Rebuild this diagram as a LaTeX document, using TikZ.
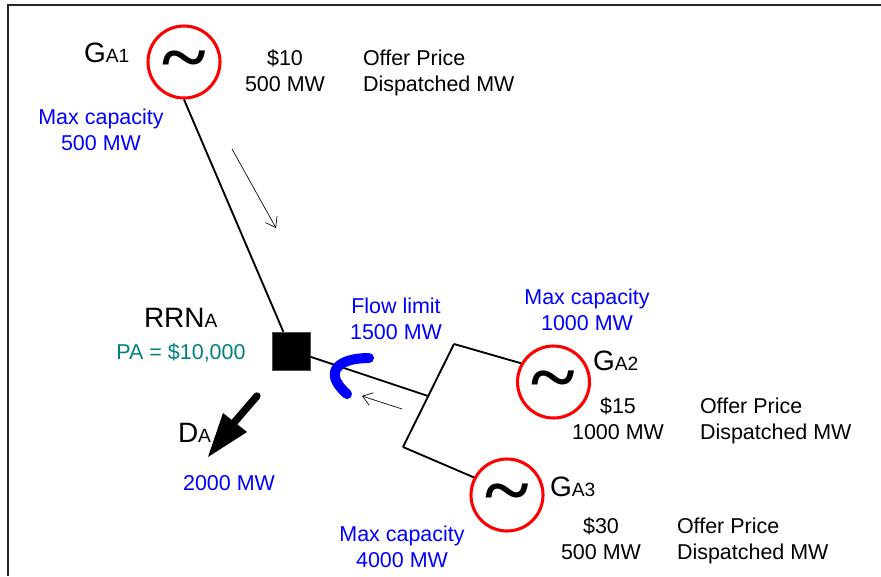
\documentclass[tikz,border=0pt]{standalone}
\usepackage{fontspec}
\setmainfont{Liberation Sans}
\newfontfamily\tildefont[FakeStretch=1.12]{Liberation Serif}
\usetikzlibrary{arrows.meta}
\definecolor{tealtxt}{RGB}{0,128,128}
\definecolor{flowblue}{RGB}{0,0,255}
\newcommand{\bigsub}[2]{{\fontsize{21pt}{24pt}\selectfont #1}{\fontsize{14.4pt}{17pt}\selectfont #2}}
\newcommand{\tildemark}{\raisebox{-15pt}[0pt][0pt]{\bfseries\char"7E}}
\tikzset{
  x=.75pt,y=-.75pt,
  gen/.style={circle,draw=red,line width=2.3pt,minimum size=54pt,inner sep=0pt,fill=white,font=\tildefont\fontsize{56pt}{56pt}\selectfont},
  wire/.style={line width=1.4pt,black},
  flowarrow/.style={line width=.5pt,black,-{Straight Barb[length=7pt,width=10pt,line width=.5pt]}},
  txt/.style={inner sep=0pt,outer sep=0pt,font=\fontsize{16.1pt}{19.3pt}\selectfont,align=center,anchor=base},
  ltxt/.style={txt,align=left,anchor=base west},
  bluetxt/.style={txt,text=flowblue},
  lab/.style={inner sep=0pt,outer sep=0pt,anchor=base west},
}
\begin{document}
\begin{tikzpicture}
\useasboundingbox (0,0) rectangle (881,576);
\draw[line width=1.5pt,black!85] (8,576) -- (8,5) -- (881,5);
% nodes
\node[gen] (g1) at (184,62) {\tildemark};
\node[gen] (g2) at (553.5,382) {\tildemark};
\node[gen] (g3) at (507,495) {\tildemark};
\node[fill=black,draw=black!70,line width=.4pt,minimum size=28.5pt,inner sep=0pt] (rrn) at (291.5,351) {};
\coordinate (j) at (428,396);
\coordinate (bt) at (454,344);
\coordinate (bb) at (403,447);
% wires
\draw[wire] (g1.south) -- (rrn.113);
\draw[wire] (rrn.-17) -- (j);
\draw[wire] (bb) -- (bt);
\draw[wire] (bt) -- (g2.150);
\draw[wire] (bb) -- (g3.152);
% flow arrows
\coordinate (fa1) at (232,149);
\coordinate (fa2) at (276,228);
\coordinate (fb1) at (402,409);
\coordinate (fb2) at (362,396);
\draw[flowarrow] (fa1) -- (fa2);
\draw[flowarrow] (fb1) -- (fb2);
% flow limit
\coordinate (fl1) at (369,358);
\coordinate (fl2) at (347,394);
\draw[flowblue,line width=7.5pt,line cap=round] (fl1) .. controls (338,358) and (322,372) .. (fl2);
% load
\coordinate (d1) at (257,396);
\coordinate (d2) at (232,425);
\coordinate (dtip) at (208,457);
\coordinate (dl) at (223,413);
\coordinate (dr) at (247,432);
\draw[black,line width=5.5pt,line cap=round] (d1) -- (d2);
\fill[black] (dtip) -- (dl) -- (dr) -- cycle;
% labels
\node[lab] (lg1) at (84,62) {\bigsub{G}{A1}};
\node[lab] (lg2) at (593,370) {\bigsub{G}{A2}};
\node[lab] (lg3) at (550,496) {\bigsub{G}{A3}};
\node[lab] (lrrn) at (144,327) {\bigsub{RRN}{A}};
\node[lab] (ld) at (178,442) {\bigsub{D}{A}};
% black text
\node[txt] (p1) at (285,91) {\$10\\500 MW};
\node[ltxt] (o1) at (363,91) {Offer Price\\Dispatched MW};
\node[txt] (p2) at (618,439) {\$15\\1000 MW};
\node[ltxt] (o2) at (700,439) {Offer Price\\Dispatched MW};
\node[txt] (p3) at (601,559) {\$30\\500 MW};
\node[ltxt] (o3) at (677,559) {Offer Price\\Dispatched MW};
% blue text
\node[bluetxt] (m1) at (101,150) {Max capacity\\500 MW};
\node[bluetxt] (m2) at (587,330) {Max capacity\\1000 MW};
\node[bluetxt] (m3) at (402,567) {Max capacity\\4000 MW};
\node[bluetxt] (fl) at (396,339) {Flow limit\\1500 MW};
\node[bluetxt] (dm) at (229,490) {2000 MW};
\node[txt,text=tealtxt] (pa) at (181,359) {PA = \$10,000};
\end{tikzpicture}
\end{document}
